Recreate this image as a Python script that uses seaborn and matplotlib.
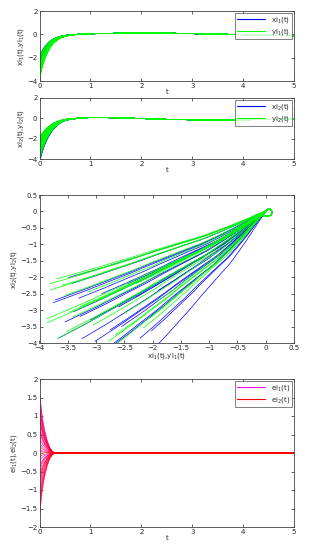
import numpy as np
import pandas as pd
import matplotlib
matplotlib.use("Agg")
import matplotlib.pyplot as plt
from matplotlib.lines import Line2D
from matplotlib.ticker import FuncFormatter
import seaborn as sns

# time samples and shared response shapes
t_grid = [0, 0.025, 0.05, 0.075, 0.1, 0.15, 0.2, 0.25, 0.3, 0.4, 0.5, 0.6, 0.8,
          1.0, 1.5, 2.0, 2.5, 3.0, 3.5, 4.0, 4.5, 5.0]
decay_1 = [1, 0.86, 0.74, 0.64, 0.56, 0.42, 0.31, 0.23, 0.17, 0.09, 0.045, 0.02, 0.004,
           0, 0, 0, 0, 0, 0, 0, 0, 0]
decay_2 = [1, 0.88, 0.77, 0.68, 0.60, 0.47, 0.37, 0.28, 0.21, 0.11, 0.055, 0.03, 0.007,
           0, 0, 0, 0, 0, 0, 0, 0, 0]
drift_1 = [0, 0, 0, 0, 0, 0, 0, 0, 0, 0, 0, 0, 0.03,
           0.05, 0.09, 0.11, 0.1, 0.06, 0.02, -0.03, -0.08, -0.12]
drift_2 = [0, 0, 0, 0, 0, 0, 0, 0, 0, 0, 0.01, 0.02, 0.05,
           0.08, 0.06, -0.02, -0.1, -0.14, -0.15, -0.14, -0.11, -0.08]
err_decay = [1, 0.78, 0.60, 0.47, 0.36, 0.20, 0.09, 0.03, 0, 0, 0, 0, 0,
             0, 0, 0, 0, 0, 0, 0, 0, 0]

# initial states (drive system xi, response system yi)
xi1_0 = [-3.49, -3.43, -3.75, -3.72, -3.31, -3.55, -3.28, -3.66, -3.25, -3.02, -2.22, -2.02,
         -2.43, -2.90, -2.60, -3.10, -2.75, -2.30, -1.90, -3.40, -2.55, -2.05, -3.00, -2.80]
xi2_0 = [-2.01, -2.19, -2.77, -2.69, -2.64, -3.36, -3.19, -3.85, -3.87, -3.95, -3.85, -3.63,
         -2.19, -2.50, -2.90, -3.30, -3.60, -2.60, -2.40, -3.05, -3.50, -4.30, -4.40, -4.20]
yi1_0 = [-3.82, -3.81, -3.87, -3.87, -3.47, -3.52, -3.69, -2.78, -2.16, -2.05, -1.93, -3.34,
         -3.28, -3.60, -3.15, -2.95, -2.50, -3.70, -3.40, -2.30, -2.65, -3.05, -3.55, -2.85]
yi2_0 = [-2.20, -2.39, -3.26, -3.39, -3.06, -3.65, -3.87, -3.95, -3.54, -3.24, -2.74, -1.93,
         -2.89, -2.25, -2.45, -2.70, -3.10, -2.05, -3.20, -2.20, -3.75, -3.45, -2.55, -4.30]
ei1_0 = [1.75, 1.5, 1.2, 0.9, 0.6, 0.3, 0.1, -0.2, -0.5, -0.8, -1.1, -1.4, -1.6, 1.35, 0.75, -0.35]
ei2_0 = [1.6, 1.3, 1.0, 0.7, 0.45, 0.2, -0.1, -0.4, -0.65, -0.95, -1.25, -1.5, -1.8, 1.1, -0.75, 0.05]

t = np.array(t_grid)
p1, p2 = np.array(decay_1), np.array(decay_2)
d1, d2 = np.array(drift_1), np.array(drift_2)
pe = np.array(err_decay)

# long-form table of trajectories
rows = []
for name, s1, s2 in [("xi", xi1_0, xi2_0), ("yi", yi1_0, yi2_0)]:
    for k, (a, b) in enumerate(zip(s1, s2)):
        rows.append(pd.DataFrame({"t": t, "v1": a * p1 + d1, "v2": b * p2 + d2,
                                  "sys": name, "run": f"{name}{k}"}))
traj = pd.concat(rows, ignore_index=True)

erows = []
for name, e0 in [("e1", ei1_0), ("e2", ei2_0)]:
    for k, a in enumerate(e0):
        erows.append(pd.DataFrame({"t": t, "e": a * pe, "sys": name, "run": f"{name}{k}"}))
err = pd.concat(erows, ignore_index=True)

sns.set_style("ticks")
plt.rcParams["font.family"] = ["DejaVu Sans"]
fs = 5

W, H = 309, 550
fig = plt.figure(figsize=(W / 100, H / 100), dpi=100)

def box(top, bottom, left=39.5, right=294):
    return [left / W, 1 - bottom / H, (right - left) / W, (bottom - top) / H]

ax1 = fig.add_axes(box(11, 81))
ax2 = fig.add_axes(box(98, 159))
ax3 = fig.add_axes(box(195, 343))
ax4 = fig.add_axes(box(379, 527))

pal = {"xi": "#0000ff", "yi": "#00ff00"}
epal = {"e1": "#ff00ff", "e2": "#ff0000"}
kw = dict(estimator=None, sort=False, legend=False, linewidth=0.5)

sns.lineplot(data=traj, x="t", y="v1", hue="sys", units="run", palette=pal, ax=ax1, **kw)
sns.lineplot(data=traj, x="t", y="v2", hue="sys", units="run", palette=pal, ax=ax2, **kw)
sns.lineplot(data=traj, x="v1", y="v2", hue="sys", units="run", palette=pal, ax=ax3, **kw)
sns.lineplot(data=err, x="t", y="e", hue="sys", units="run", palette=epal, ax=ax4,
             estimator=None, sort=False, legend=False, linewidth=0.4)

fmt = FuncFormatter(lambda v, p: f"{v:g}".replace("-", "\u2212") if v != 0 else "0")

for ax in (ax1, ax2):
    ax.set_xlim(0, 5)
    ax.set_ylim(-4, 2)
    ax.set_yticks([-4, -2, 0, 2])
    ax.set_xlabel("t", fontsize=fs, labelpad=0)
ax1.set_ylabel("xi$_1$(t),yi$_1$(t)", fontsize=fs, labelpad=1)
ax2.set_ylabel("xi$_2$(t),yi$_2$(t)", fontsize=fs, labelpad=1)

ax3.set_xlim(-4, 0.5)
ax3.set_ylim(-4, 0.5)
ax3.set_xticks(np.arange(-4, 0.51, 0.5))
ax3.set_yticks(np.arange(-4, 0.51, 0.5))
ax3.set_xlabel("xi$_1$(t),yi$_1$(t)", fontsize=fs, labelpad=0)
ax3.set_ylabel("xi$_2$(t),yi$_2$(t)", fontsize=fs, labelpad=1)

ax4.set_xlim(0, 5)
ax4.set_ylim(-2, 2)
ax4.set_yticks(np.arange(-2, 2.01, 0.5))
ax4.set_xlabel("t", fontsize=fs, labelpad=0)
ax4.set_ylabel("ei$_1$(t),ei$_2$(t)", fontsize=fs, labelpad=1)

for ax in (ax1, ax2, ax3, ax4):
    ax.xaxis.set_major_formatter(fmt)
    ax.yaxis.set_major_formatter(fmt)
    ax.tick_params(direction="in", top=True, right=True, length=2, width=0.5,
                   labelsize=fs, pad=1.5)
    for s in ax.spines.values():
        s.set_linewidth(0.6)
        s.set_color("#444444")

def add_legend(ax, labels, colors):
    handles = [Line2D([0], [0], color=c, lw=0.8) for c in colors]
    leg = ax.legend(handles, labels, loc="upper right", fontsize=fs, frameon=True,
                    fancybox=False, edgecolor="#444444", borderaxespad=0.3,
                    handlelength=4, borderpad=0.3, labelspacing=0.3)
    leg.get_frame().set_linewidth(0.6)

add_legend(ax1, ["xi$_1$(t)", "yi$_1$(t)"], ["#0000ff", "#00ff00"])
add_legend(ax2, ["xi$_2$(t)", "yi$_2$(t)"], ["#0000ff", "#00ff00"])
add_legend(ax4, ["ei$_1$(t)", "ei$_2$(t)"], ["#ff00ff", "#ff0000"])

fig.savefig("out.png", dpi=100)
